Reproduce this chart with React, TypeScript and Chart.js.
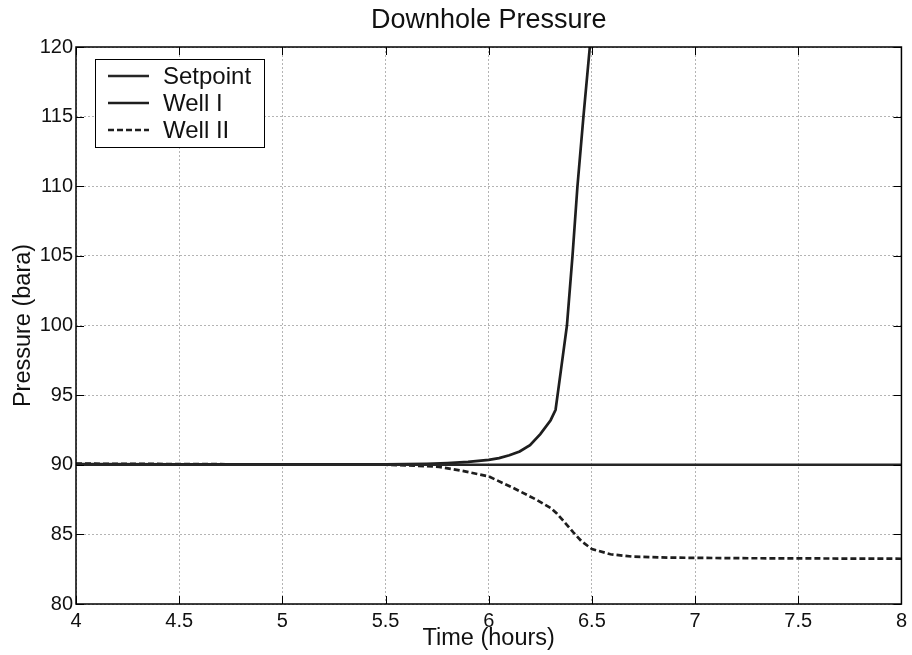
import React, { useEffect, useRef } from "react";
import { Chart, registerables } from "chart.js";

Chart.register(...registerables);

// ---- data ----
const setpointTime = [4, 8];
const setpointPressure = [90, 90];

const well1Time = [4.0, 4.5, 5.0, 5.5, 5.6, 5.7, 5.8, 5.9, 6.0, 6.05, 6.1, 6.15, 6.2, 6.25, 6.3, 6.324, 6.35, 6.379, 6.406, 6.43, 6.459, 6.49, 6.52];
const well1Pressure = [90.05, 90.03, 90.02, 90.03, 90.04, 90.07, 90.12, 90.2, 90.35, 90.48, 90.68, 90.95, 91.4, 92.2, 93.2, 93.95, 96.8, 100.0, 105.0, 110.0, 115.0, 120.0, 125.0];

const well2Time = [4.0, 4.5, 5.0, 5.5, 5.6, 5.7, 5.76, 5.87, 6.0, 6.11, 6.23, 6.3, 6.33, 6.36, 6.41, 6.45, 6.5, 6.59, 6.7, 6.88, 7.2, 8.0];
const well2Pressure = [90.08, 90.05, 90.02, 90.0, 89.96, 89.9, 89.85, 89.57, 89.16, 88.4, 87.5, 86.9, 86.5, 86.0, 85.15, 84.5, 83.95, 83.57, 83.4, 83.33, 83.29, 83.25];

const seriesNames = ["Setpoint", "Well I", "Well II"];

const xTickValues = [4, 4.5, 5, 5.5, 6, 6.5, 7, 7.5, 8];
const xTickLabels = ["4", "4.5", "5", "5.5", "6", "6.5", "7", "7.5", "8"];
const yTickValues = [80, 85, 90, 95, 100, 105, 110, 115, 120];
const yTickLabels = ["80", "85", "90", "95", "100", "105", "110", "115", "120"];

const chartTitle = "Downhole Pressure";
const xTitle = "Time (hours)";
const yTitle = "Pressure (bara)";

const FONT = "'Liberation Sans', Arial, Helvetica, sans-serif";
const TEXT = "#111111";

const toPoints = (xs: number[], ys: number[]) => xs.map((x, i) => ({ x, y: ys[i] }));

const framePlugin = {
  id: "frameTicks",
  afterDatasetsDraw(chart: any) {
    const { ctx, chartArea, scales } = chart;
    const { left, right, top, bottom } = chartArea;
    const xs = scales.x;
    const ys = scales.y;
    const len = 8;
    ctx.save();
    ctx.strokeStyle = "#000";
    ctx.lineWidth = 1;
    ctx.setLineDash([]);
    ctx.beginPath();
    xs.ticks.forEach((t: any) => {
      const px = Math.round(xs.getPixelForValue(t.value)) + 0.5;
      ctx.moveTo(px, bottom);
      ctx.lineTo(px, bottom - len);
      ctx.moveTo(px, top);
      ctx.lineTo(px, top + len);
    });
    ys.ticks.forEach((t: any) => {
      const py = Math.round(ys.getPixelForValue(t.value)) + 0.5;
      ctx.moveTo(left, py);
      ctx.lineTo(left + len, py);
      ctx.moveTo(right, py);
      ctx.lineTo(right - len, py);
    });
    ctx.stroke();
    ctx.lineWidth = 1.5;
    ctx.strokeRect(left, top, right - left, bottom - top);
    ctx.restore();
  },
};

const legendBoxPlugin = {
  id: "legendBox",
  afterDraw(chart: any) {
    const { ctx, chartArea } = chart;
    const bx = chartArea.left + 19;
    const by = chartArea.top + 12;
    const bw = 169;
    const bh = 88;
    ctx.save();
    ctx.fillStyle = "#fff";
    ctx.fillRect(bx, by, bw, bh);
    ctx.strokeStyle = "#000";
    ctx.lineWidth = 1;
    ctx.setLineDash([]);
    ctx.strokeRect(bx + 0.5, by + 0.5, bw, bh);
    ctx.font = `24px ${FONT}`;
    ctx.textBaseline = "middle";
    ctx.textAlign = "left";
    chart.data.datasets.forEach((ds: any, i: number) => {
      const cy = by + 17 + i * 27;
      ctx.beginPath();
      ctx.strokeStyle = ds.borderColor;
      ctx.lineWidth = ds.borderWidth;
      ctx.setLineDash(ds.borderDash || []);
      ctx.moveTo(bx + 13, cy);
      ctx.lineTo(bx + 54, cy);
      ctx.stroke();
      ctx.setLineDash([]);
      ctx.fillStyle = TEXT;
      ctx.fillText(ds.label, bx + 68, cy + 1);
    });
    ctx.restore();
  },
};

export default function App() {
  const canvasRef = useRef<HTMLCanvasElement | null>(null);

  useEffect(() => {
    const canvas = canvasRef.current;
    if (!canvas) return;
    const chart = new Chart(canvas, {
      type: "line",
      data: {
        datasets: [
          {
            label: seriesNames[0],
            data: toPoints(setpointTime, setpointPressure),
            borderColor: "#262626",
            borderWidth: 2.6,
            pointRadius: 0,
            tension: 0,
          },
          {
            label: seriesNames[1],
            data: toPoints(well1Time, well1Pressure),
            borderColor: "#1e1e1e",
            borderWidth: 2.7,
            pointRadius: 0,
            tension: 0,
          },
          {
            label: seriesNames[2],
            data: toPoints(well2Time, well2Pressure),
            borderColor: "#1e1e1e",
            borderWidth: 2.7,
            borderDash: [6, 3],
            pointRadius: 0,
            tension: 0,
          },
        ],
      },
      options: {
        animation: false,
        responsive: false,
        maintainAspectRatio: false,
        layout: { padding: { left: 0, right: 8, top: 0, bottom: 0 } },
        plugins: {
          legend: { display: false },
          tooltip: { enabled: false },
          title: {
            display: true,
            fullSize: false,
            text: chartTitle,
            color: TEXT,
            font: { family: FONT, size: 27, weight: "normal", lineHeight: 1.2 },
            padding: { top: 4, bottom: 10.6 },
          },
        },
        scales: {
          x: {
            type: "linear",
            min: 4,
            max: 8,
            afterBuildTicks: (scale: any) => {
              scale.ticks = xTickValues.map((v) => ({ value: v }));
            },
            afterFit: (scale: any) => {
              scale.height = 51;
            },
            ticks: {
              callback: (_v: any, i: number) => xTickLabels[i],
              color: TEXT,
              font: { family: FONT, size: 20, lineHeight: 1.2 },
              padding: 5,
              maxRotation: 0,
              autoSkip: false,
            },
            grid: { color: "#b4b4b4", lineWidth: 1, drawTicks: false },
            border: { display: false, dash: [2, 2] },
            title: {
              display: true,
              text: xTitle,
              color: TEXT,
              font: { family: FONT, size: 23.5, lineHeight: 1.2 },
              padding: { top: 0, bottom: 2 },
            },
          },
          y: {
            type: "linear",
            min: 80,
            max: 120,
            afterBuildTicks: (scale: any) => {
              scale.ticks = yTickValues.map((v) => ({ value: v }));
            },
            afterFit: (scale: any) => {
              scale.width = 76;
            },
            ticks: {
              callback: (_v: any, i: number) => yTickLabels[i],
              color: TEXT,
              font: { family: FONT, size: 20, lineHeight: 1.2 },
              padding: 3,
              autoSkip: false,
            },
            grid: { color: "#b4b4b4", lineWidth: 1, drawTicks: false },
            border: { display: false, dash: [2, 2] },
            title: {
              display: true,
              text: yTitle,
              color: TEXT,
              font: { family: FONT, size: 23.5, lineHeight: 1.2 },
              padding: { top: 9, bottom: 0 },
            },
          },
        },
      },
      plugins: [framePlugin, legendBoxPlugin],
    } as any);
    return () => chart.destroy();
  }, []);

  return (
    <div style={{ position: "absolute", left: 0, top: 0, width: 912, height: 655, background: "#fff" }}>
      <canvas ref={canvasRef} width={912} height={655} style={{ display: "block", width: 912, height: 655 }} />
    </div>
  );
}
